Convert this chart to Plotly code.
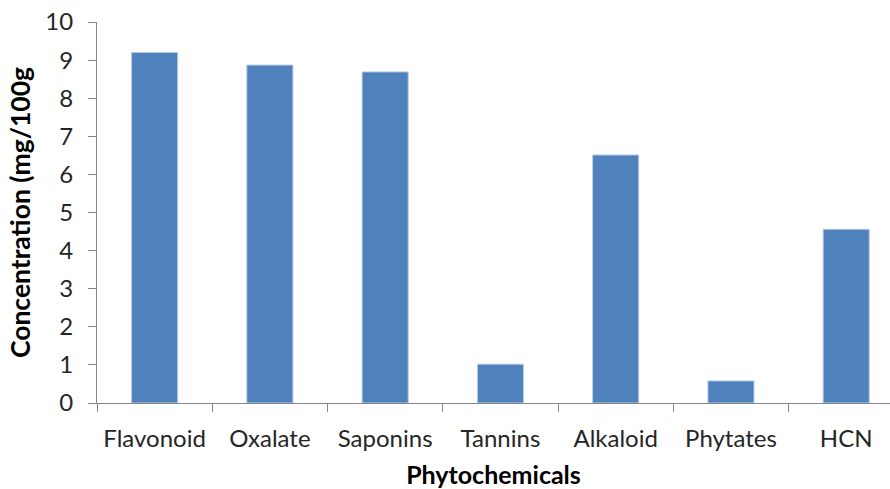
import plotly.graph_objects as go

categories = ["Flavonoid", "Oxalate", "Saponins", "Tannins", "Alkaloid", "Phytates", "HCN"]
concentration = [9.2, 8.87, 8.69, 1.02, 6.51, 0.58, 4.56]
y_ticks = list(range(0, 11))

FONT = "Lato"

fig = go.Figure(
    go.Bar(
        x=categories,
        y=concentration,
        width=0.4,
        marker=dict(color="#4F81BD", line=dict(color="#B9CDE5", width=1)),
    )
)

fig.update_layout(
    width=890,
    height=489,
    paper_bgcolor="white",
    plot_bgcolor="white",
    margin=dict(l=97, r=0, t=22, b=86, autoexpand=False),
    showlegend=False,
    font=dict(family=FONT, size=24, color="#262626"),
)

fig.update_xaxes(
    range=[-0.5, 6.38],
    automargin=False,
    showline=True,
    linecolor="#868686",
    linewidth=1,
    ticks="outside",
    tickson="boundaries",
    ticklen=8,
    tickcolor="#868686",
    showgrid=False,
    ticklabelstandoff=14,
    ticklabeloverflow="allow",
    tickfont=dict(family=FONT, size=24, color="#262626"),
    title=dict(text="<b>Phytochemicals</b>", font=dict(family=FONT, size=25, color="black"), standoff=18),
)

fig.update_yaxes(
    range=[0, 10],
    automargin=False,
    tickvals=y_ticks,
    showline=True,
    linecolor="#868686",
    linewidth=1,
    ticks="outside",
    ticklen=8,
    tickcolor="#868686",
    showgrid=False,
    zeroline=False,
    ticklabelstandoff=10,
    ticklabeloverflow="allow",
    tickfont=dict(family=FONT, size=24, color="#262626"),
    title=dict(text="<b>Concentration (mg/100g</b>", font=dict(family=FONT, size=26.5, color="black"), standoff=7),
)

# remove the default 8px page margin so the figure fills the window exactly
fig.write_html(
    "out.html",
    config={"displayModeBar": False},
    post_script="document.body.style.margin='0';",
)
